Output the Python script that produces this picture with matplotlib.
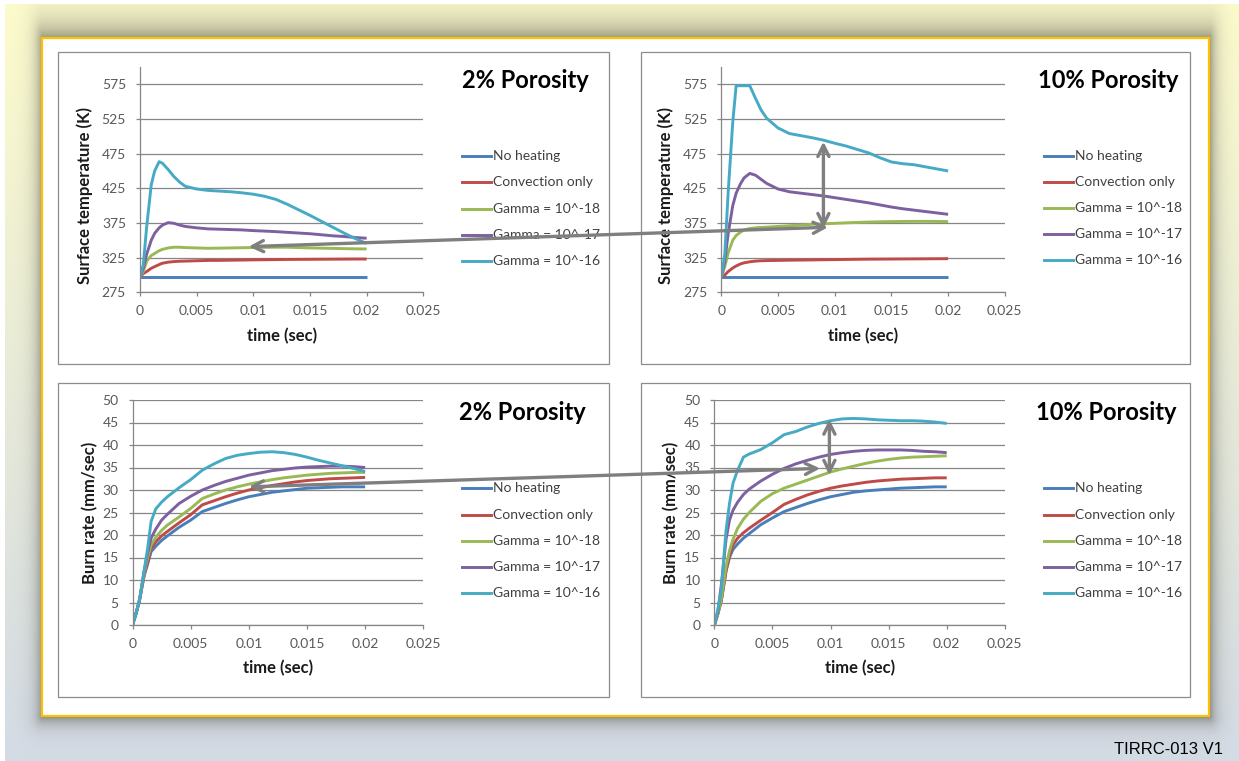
import matplotlib
matplotlib.use("Agg")
import matplotlib.pyplot as plt
from matplotlib.patches import Rectangle, ConnectionPatch
from matplotlib.lines import Line2D
import numpy as np

W, H = 1239, 761
plt.rcParams["font.family"] = ["Lato", "DejaVu Sans"]

# ── data ─────────────────────────────────────────────────────────────────────
series_names = ["No heating", "Convection only", "Gamma = 10^-18",
                "Gamma = 10^-17", "Gamma = 10^-16"]
series_colors = ["#4A7EBB", "#BE4B48", "#98B954", "#7D60A0", "#46AAC5"]

t_temp = [0, 0.0003, 0.0006, 0.001, 0.0013, 0.0017, 0.002, 0.0025, 0.003, 0.0035,
          0.004, 0.005, 0.006, 0.007, 0.008, 0.009, 0.010, 0.011, 0.012, 0.013,
          0.014, 0.015, 0.016, 0.017, 0.018, 0.019, 0.020]

# surface temperature, 2% porosity
temp2_none = [297] * 27
temp2_conv = [297, 302, 305, 309.6, 312, 315, 317, 318.5, 319.3, 319.8, 320, 320.5,
              321, 321, 321.3, 321.5, 321.8, 322, 322.2, 322.4, 322.5, 322.6, 322.7,
              322.8, 322.9, 323, 323]
temp2_g18 = [297, 305, 320, 328, 331, 335, 337, 339, 340, 340, 339.5, 339, 338.5,
             338.7, 339, 339.3, 339.6, 339.8, 340, 340, 339.5, 339, 338.7, 338.3,
             338, 337.7, 337.5]
temp2_g17 = [297, 310, 330, 350, 360, 368, 372, 375.5, 374.5, 372, 370, 368, 366.5,
             366, 365.5, 365, 364, 363.3, 362.5, 361.5, 360.5, 359.5, 358, 356.5,
             355.5, 354, 353]
temp2_g16 = [297, 315, 370, 430, 450, 463.5, 461, 452, 442, 434, 428, 424, 422, 421,
             420, 418.5, 416.5, 413.5, 409, 402, 394, 386, 377.5, 369, 360.5, 352.5,
             345.5]

# surface temperature, 10% porosity
temp10_none = [297] * 27
temp10_conv = [297, 300, 305, 310, 313, 316, 317.5, 319, 320, 320.5, 320.8, 321,
               321.3, 321.5, 321.7, 322, 322.2, 322.4, 322.6, 322.8, 322.9, 323,
               323.1, 323.2, 323.3, 323.4, 323.5]
temp10_g18 = [297, 312, 332, 350, 357, 362, 365, 367, 368, 368.5, 369, 370, 371, 372,
              373, 373.8, 374.5, 375.2, 375.8, 376.3, 376.7, 377, 377.2, 377.3, 377.3,
              377.2, 377]
temp10_g17 = [297, 320, 360, 400, 418, 432, 440, 446.5, 444, 438, 432, 424, 420, 418,
              416, 414, 411.5, 409, 406.5, 404, 401, 398, 395.5, 393.5, 391.5, 389.5,
              387.5]
temp10_g16 = [297, 330, 420, 520, 573, 573, 573, 573, 555, 538, 526, 512, 504, 501,
              498, 494.5, 490, 486, 481, 476, 469, 463, 460.5, 459, 456, 453, 450]

t_burn = [0, 0.0003, 0.0006, 0.001, 0.0013, 0.0016, 0.002, 0.0025, 0.003, 0.004,
          0.005, 0.006, 0.007, 0.008, 0.009, 0.010, 0.011, 0.012, 0.013, 0.014,
          0.015, 0.016, 0.017, 0.018, 0.019, 0.020]

# burn rate, 2% porosity
burn2_none = [0, 2.5, 5.5, 11, 13.5, 16.3, 17.5, 18.8, 19.8, 21.7, 23.3, 25.2, 26.1,
              27, 27.8, 28.5, 29, 29.5, 29.8, 30.1, 30.4, 30.5, 30.6, 30.7, 30.7, 30.7]
burn2_conv = [0, 2.5, 5.5, 11, 14, 17, 18.5, 19.8, 20.8, 22.7, 24.5, 26.7, 27.6,
              28.5, 29.3, 30, 30.5, 31, 31.4, 31.8, 32.1, 32.3, 32.5, 32.6, 32.7, 32.8]
burn2_g18 = [0, 2.5, 5.5, 11.5, 15, 17.8, 19.5, 21, 22.2, 24, 25.9, 28.1, 29.1, 30,
             30.7, 31.3, 31.8, 32.3, 32.7, 33, 33.3, 33.5, 33.7, 33.8, 33.9, 33.9]
burn2_g17 = [0, 2.5, 5.5, 12, 16, 19.3, 21.3, 23.3, 24.6, 27, 28.6, 30, 31, 31.9,
             32.6, 33.3, 33.8, 34.3, 34.6, 34.9, 35.1, 35.2, 35.3, 35.3, 35.2, 35]
burn2_g16 = [0, 2.5, 5.5, 12, 17, 23, 25.8, 27.3, 28.5, 30.5, 32.3, 34.4, 35.8, 37,
             37.7, 38.1, 38.4, 38.5, 38.3, 37.9, 37.3, 36.6, 36, 35.4, 34.8, 34.1]

# burn rate, 10% porosity
burn10_none = [0, 2.5, 5.5, 12, 15, 16.8, 18, 19.3, 20.3, 22.3, 23.8, 25.2, 26.1,
               27, 27.8, 28.5, 29, 29.5, 29.8, 30, 30.2, 30.4, 30.5, 30.6, 30.7, 30.7]
burn10_conv = [0, 2.5, 5.5, 12, 15.5, 17.8, 19.3, 20.5, 21.5, 23.3, 25, 26.8, 27.9,
               28.9, 29.7, 30.4, 30.9, 31.3, 31.7, 32, 32.2, 32.4, 32.5, 32.6, 32.7,
               32.7]
burn10_g18 = [0, 2.5, 6, 13, 16.5, 19, 21.5, 23.5, 25, 27.5, 29.2, 30.4, 31.3, 32.2,
              33.1, 34, 34.7, 35.3, 35.9, 36.4, 36.8, 37.1, 37.3, 37.4, 37.5, 37.6]
burn10_g17 = [0, 3, 9, 19, 23.3, 25.5, 27.3, 29, 30.2, 32, 33.5, 34.8, 35.8, 36.6,
              37.3, 37.9, 38.3, 38.6, 38.8, 38.9, 38.9, 38.9, 38.8, 38.6, 38.5, 38.3]
burn10_g16 = [0, 3.5, 8, 21, 27, 31.5, 34.4, 37.3, 38, 39, 40.5, 42.3, 43, 44, 44.8,
              45.4, 45.8, 45.9, 45.8, 45.6, 45.5, 45.4, 45.4, 45.3, 45.1, 44.8]

x_ticks = [0, 0.005, 0.01, 0.015, 0.02, 0.025]
x_tick_labels = ["0", "0.005", "0.01", "0.015", "0.02", "0.025"]
temp_ticks = [275, 325, 375, 425, 475, 525, 575]
burn_ticks = [0, 5, 10, 15, 20, 25, 30, 35, 40, 45, 50]

# ── helpers ──────────────────────────────────────────────────────────────────
def fx(x):
    return x / W

def fy(y):
    return 1 - y / H

def px_axes(l, r, t, b):
    return [fx(l), fy(b), (r - l) / W, (b - t) / H]

C_GRID = "#868686"
C_TICK = "#595959"

fig = plt.figure(figsize=(W / 100, H / 100), dpi=100)

# background gradient + soft shadow round the slide frame
yy, xx = np.mgrid[0:H, 0:W]
c_top = np.array([0.995, 0.988, 0.80])
c_bot = np.array([0.83, 0.86, 0.90])
frac = (yy / (H - 1))[..., None]
img = c_top * (1 - frac) + c_bot * frac
x0, y0, x1, y1 = 42, 38, 1209, 716
dx = np.maximum(np.maximum(x0 - xx, xx - x1), 0) * 1.0
dy = np.maximum(y0 - yy, 0) * 0.42 + np.maximum(yy - y1, 0) * 0.8
alpha = 0.6 * np.exp(-np.hypot(dx, dy) / 7.0)
alpha[(xx >= x0) & (xx <= x1) & (yy >= y0) & (yy <= y1)] = 0
shade = np.array([0.33, 0.33, 0.30])
img = img * (1 - alpha[..., None]) + shade * alpha[..., None]
img[:4, :] = 1
img[:, :5] = 1
bg = fig.add_axes([0, 0, 1, 1])
bg.imshow(img, aspect="auto", interpolation="nearest")
bg.axis("off")
bg.set_zorder(-10)

# white slide frame with orange border
fig.add_artist(Rectangle((fx(x0), fy(y1)), (x1 - x0) / W, (y1 - y0) / H,
                         transform=fig.transFigure, facecolor="white",
                         edgecolor="#FFC000", linewidth=1.6, zorder=-5))

panels = [
    dict(box=(58, 52, 609, 364), ax=(139.9, 423.3, 67, 292.3),
         t=t_temp, ys=[temp2_none, temp2_conv, temp2_g18, temp2_g17, temp2_g16],
         title="2% Porosity", title_xy=(589, 80), leg_x=462, leg_y=[156, 182, 209, 235, 261],
         ylabel="Surface temperature (K)", ylim=(275, 600), yticks=temp_ticks,
         ylab_x=84.4, ylab_y=195, xlab_y=336),
    dict(box=(641, 52, 1190, 364), ax=(721.4, 1004.8, 67, 292.3),
         t=t_temp, ys=[temp10_none, temp10_conv, temp10_g18, temp10_g17, temp10_g16],
         title="10% Porosity", title_xy=(1179, 80), leg_x=1044, leg_y=[156, 182, 208, 234, 260],
         ylabel="Surface temperature (K)", ylim=(275, 600), yticks=temp_ticks,
         ylab_x=666, ylab_y=195, xlab_y=336),
    dict(box=(58, 383, 609, 697), ax=(132.5, 423.3, 400, 625),
         t=t_burn, ys=[burn2_none, burn2_conv, burn2_g18, burn2_g17, burn2_g16],
         title="2% Porosity", title_xy=(586, 413), leg_x=462, leg_y=[488, 515, 541, 567, 593],
         ylabel="Burn rate (mm/sec)", ylim=(0, 50), yticks=burn_ticks,
         ylab_x=90, ylab_y=513, xlab_y=668),
    dict(box=(641, 383, 1190, 697), ax=(714.4, 1004.8, 400, 625),
         t=t_burn, ys=[burn10_none, burn10_conv, burn10_g18, burn10_g17, burn10_g16],
         title="10% Porosity", title_xy=(1176, 413), leg_x=1044, leg_y=[488, 515, 541, 567, 593],
         ylabel="Burn rate (mm/sec)", ylim=(0, 50), yticks=burn_ticks,
         ylab_x=671.4, ylab_y=513, xlab_y=668),
]

axes = []
for p in panels:
    bx0, by0, bx1, by1 = p["box"]
    fig.add_artist(Rectangle((fx(bx0), fy(by1)), (bx1 - bx0) / W, (by1 - by0) / H,
                             transform=fig.transFigure, facecolor="white",
                             edgecolor="#8C8C8C", linewidth=0.9, zorder=-4))
    l, r, t, b = p["ax"]
    ax = fig.add_axes(px_axes(l, r, t, b))
    ax.set_facecolor("white")
    for yv, c in zip(p["ys"], series_colors):
        ax.plot(p["t"], yv, color=c, linewidth=2.1, solid_capstyle="butt")
    ax.set_xlim(0, 0.025)
    ax.set_ylim(*p["ylim"])
    ax.set_xticks(x_ticks)
    ax.set_xticklabels(x_tick_labels)
    ax.set_yticks(p["yticks"])
    for s in ["top", "right"]:
        ax.spines[s].set_visible(False)
    for s in ["left", "bottom"]:
        ax.spines[s].set_color(C_GRID)
        ax.spines[s].set_linewidth(0.9)
    ax.yaxis.grid(True, color=C_GRID, linewidth=0.9)
    ax.set_axisbelow(True)
    ax.tick_params(axis="both", direction="out", length=3, width=0.9, color=C_GRID,
                   labelcolor=C_TICK, labelsize=10)
    ax.tick_params(axis="y", pad=7)
    ax.tick_params(axis="x", pad=6.5)
    ax.set_xlabel("time (sec)", fontsize=12, fontweight="bold", color="#1a1a1a")
    ax.set_ylabel(p["ylabel"], fontsize=12, fontweight="bold", color="#1a1a1a")
    ax.xaxis.set_label_coords(0.5, (b - p["xlab_y"]) / (b - t))
    ax.yaxis.set_label_coords((p["ylab_x"] - l) / (r - l), (b - p["ylab_y"]) / (b - t))
    ax.xaxis.label.set_va("center")
    ax.yaxis.label.set_va("center")

    fig.text(fx(p["title_xy"][0]), fy(p["title_xy"][1]), p["title"], fontsize=17,
             fontweight="bold", color="black", ha="right", va="center")

    lx = p["leg_x"]
    for name, c, ly in zip(series_names, series_colors, p["leg_y"]):
        fig.add_artist(Line2D([fx(lx), fx(lx + 29)], [fy(ly), fy(ly)],
                              transform=fig.transFigure, color=c, linewidth=2.1))
        fig.text(fx(lx + 31), fy(ly), name, fontsize=10, color="#404040",
                 ha="left", va="center")
    axes.append(ax)

ax_tl, ax_tr, ax_bl, ax_br = axes

# grey comparison arrows
arrow_kw = dict(arrowstyle="<->", color="#7F7F7F", linewidth=2.4,
                mutation_scale=20, zorder=10)
fig.add_artist(ConnectionPatch(xyA=(0.0096, 340.9), coordsA=ax_tl.transData,
                               xyB=(0.0094, 368.8), coordsB=ax_tr.transData, **arrow_kw))
fig.add_artist(ConnectionPatch(xyA=(0.0090, 492.3), coordsA=ax_tr.transData,
                               xyB=(0.0090, 367.3), coordsB=ax_tr.transData, **arrow_kw))
fig.add_artist(ConnectionPatch(xyA=(0.0100, 30.7), coordsA=ax_bl.transData,
                               xyB=(0.0091, 34.8), coordsB=ax_br.transData, **arrow_kw))
fig.add_artist(ConnectionPatch(xyA=(0.0099, 45.7), coordsA=ax_br.transData,
                               xyB=(0.0099, 33.3), coordsB=ax_br.transData, **arrow_kw))

fig.text(fx(1223), fy(750), "TIRRC-013 V1", fontsize=12,
         family=["Liberation Sans Narrow", "Liberation Sans", "DejaVu Sans"],
         color="black", ha="right", va="center")

fig.savefig("out.png", dpi=100)
